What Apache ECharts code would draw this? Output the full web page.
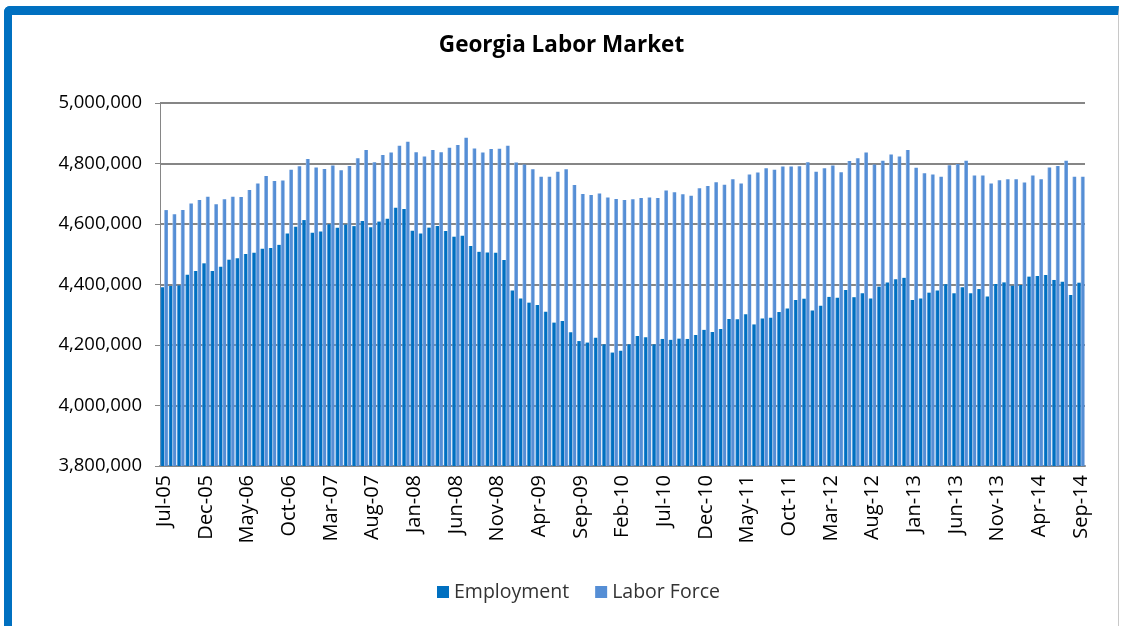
<!DOCTYPE html>
<html>
<head>
<meta charset="utf-8">
<script src="https://cdn.jsdelivr.net/npm/echarts@6/dist/echarts.min.js"></script>
<style>
  html, body { margin: 0; padding: 0; background: #ffffff; }
  #frame {
    position: absolute; left: 4px; top: 6px; width: 1115px; height: 622px;
    border-top: 9px solid #0070C0; border-left: 8px solid #0070C0;
    border-right: 1px solid #c8c8c8;
    box-sizing: border-box; border-top-left-radius: 6px;
  }
  #main { position: absolute; left: 0; top: 0; width: 1123px; height: 626px; }
</style>
</head>
<body>
<div id="frame"></div>
<div id="main"></div>
<script>
// month labels Jul-05 .. Sep-14
var monthNames = ['Jan', 'Feb', 'Mar', 'Apr', 'May', 'Jun', 'Jul', 'Aug', 'Sep', 'Oct', 'Nov', 'Dec'];
var months = [];
for (var k = 0; k < 111; k++) {
  var m = (6 + k) % 12;
  var y = 5 + Math.floor((6 + k) / 12);
  months.push(monthNames[m] + '-' + (y < 10 ? '0' + y : y));
}

// values in thousands
var employment = [
  4391, 4395, 4397, 4432, 4445, 4470, 4445, 4459, 4482, 4487, 4501, 4505,
  4518, 4521, 4531, 4569, 4591, 4613, 4571, 4575, 4599, 4588, 4598, 4593,
  4610, 4589, 4608, 4617, 4654, 4650, 4578, 4569, 4588, 4593, 4577, 4558,
  4561, 4527, 4508, 4506, 4505, 4481, 4380, 4354, 4340, 4332, 4310, 4274,
  4279, 4242, 4213, 4208, 4224, 4202, 4175, 4181, 4202, 4230, 4226, 4202,
  4220, 4217, 4221, 4220, 4233, 4250, 4243, 4253, 4286, 4285, 4302, 4268,
  4288, 4290, 4309, 4321, 4349, 4353, 4314, 4330, 4359, 4356, 4382, 4358,
  4371, 4354, 4393, 4407, 4417, 4422, 4349, 4354, 4373, 4380, 4401, 4371,
  4391, 4371, 4385, 4360, 4402, 4407, 4396, 4398, 4426, 4428, 4431, 4415,
  4409, 4365, 4406
];
var laborForce = [
  4646, 4632, 4646, 4668, 4679, 4690, 4665, 4682, 4690, 4689, 4712, 4734,
  4759, 4742, 4744, 4779, 4791, 4815, 4787, 4782, 4793, 4778, 4792, 4817,
  4845, 4804, 4828, 4836, 4859, 4872, 4837, 4823, 4845, 4837, 4852, 4861,
  4885, 4850, 4836, 4848, 4849, 4859, 4803, 4797, 4781, 4756, 4756, 4773,
  4781, 4729, 4699, 4696, 4701, 4688, 4683, 4679, 4682, 4686, 4688, 4686,
  4711, 4705, 4698, 4693, 4718, 4726, 4738, 4730, 4748, 4734, 4764, 4770,
  4784, 4779, 4790, 4790, 4791, 4804, 4773, 4784, 4793, 4771, 4808, 4817,
  4836, 4797, 4809, 4830, 4823, 4845, 4786, 4768, 4764, 4756, 4794, 4798,
  4809, 4760, 4760, 4734, 4745, 4748, 4748, 4737, 4760, 4748, 4787, 4792,
  4809, 4756, 4756
];

var yMin = 3800000, yMax = 5000000, yStep = 200000;

function shade(c1, c2) {
  return new echarts.graphic.LinearGradient(0, 0, 1, 0, [
    { offset: 0, color: c2 },
    { offset: 0.35, color: c1 },
    { offset: 1, color: c1 }
  ]);
}

var chartDom = document.getElementById('main');
var myChart = echarts.init(chartDom);
var option = {
  animation: false,
  title: {
    text: 'Georgia Labor Market',
    left: 'center',
    top: 29,
    textStyle: { fontFamily: 'Open Sans', fontWeight: 'bold', fontSize: 22.5, color: '#000' }
  },
  legend: {
    bottom: 19,
    left: 432,
    itemWidth: 12,
    itemHeight: 12,
    itemGap: 26,
    icon: 'rect',
    textStyle: { fontFamily: 'Open Sans', fontSize: 19.5, color: '#333' },
    data: [
      { name: 'Employment', itemStyle: { color: '#0070C0' } },
      { name: 'Labor Force', itemStyle: { color: '#558ED5' } }
    ]
  },
  grid: { left: 160, right: 38, top: 103, bottom: 160 },
  xAxis: {
    type: 'category',
    data: months,
    axisLine: { lineStyle: { color: '#868686', width: 2 } },
    axisTick: { show: false },
    axisLabel: {
      interval: 4,
      rotate: 90,
      fontFamily: 'Open Sans',
      fontSize: 20,
      color: '#000',
      margin: 9
    }
  },
  yAxis: {
    type: 'value',
    min: yMin,
    max: yMax,
    interval: yStep,
    axisLine: { show: true, lineStyle: { color: '#868686', width: 1 } },
    axisTick: { show: true, length: 5, lineStyle: { color: '#868686' } },
    splitLine: { lineStyle: { color: '#868686', width: 2 } },
    axisLabel: {
      fontFamily: 'Open Sans',
      fontSize: 18.5,
      color: '#000',
      margin: 18,
      formatter: function (v) { return v.toLocaleString('en-US'); }
    }
  },
  series: [
    {
      name: 'Employment',
      type: 'bar',
      barWidth: 3.7,
      barGap: '0%',
      itemStyle: { color: shade('#0070C0', '#4d9be0') },
      data: employment.map(function (v) { return v * 1000; })
    },
    {
      name: 'Labor Force',
      type: 'bar',
      barWidth: 3.7,
      itemStyle: { color: shade('#558ED5', '#9dbde8') },
      data: laborForce.map(function (v) { return v * 1000; })
    }
  ]
};
option && myChart.setOption(option);
</script>
</body>
</html>
